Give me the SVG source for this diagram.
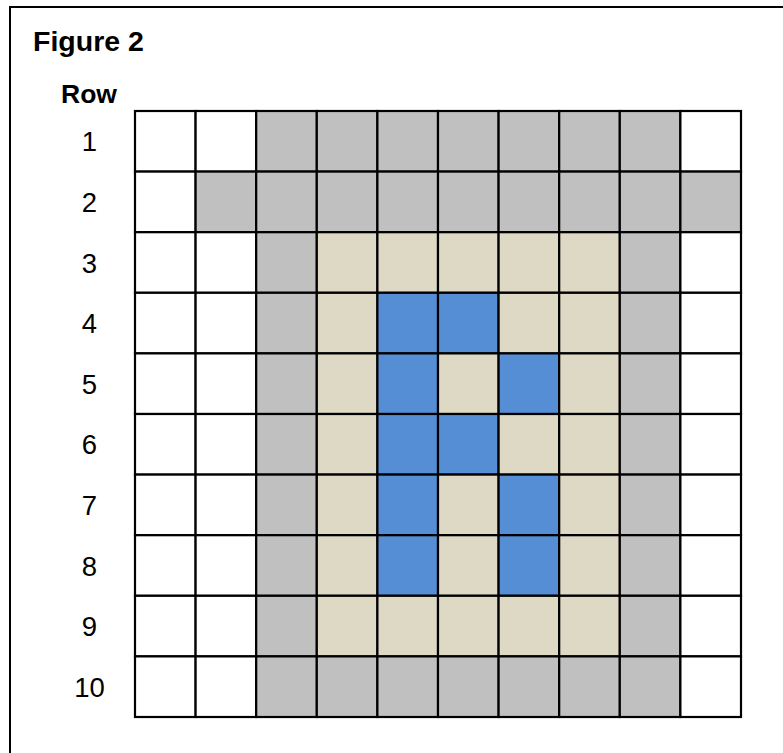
<svg xmlns="http://www.w3.org/2000/svg" width="783" height="753" viewBox="0 0 783 753">
<style>
.c{stroke:#000;stroke-width:2.2}
.w{fill:#FFFFFF}
.g{fill:#C0C0C0}
.b{fill:#DDD9C4}
.u{fill:#558ED5}
.t{font-family:"Liberation Sans",Arial,sans-serif;fill:#000}
.n{font-size:27.5px;text-anchor:middle}
.h{font-weight:bold}
</style>
<rect width="783" height="753" fill="#FFFFFF"/>
<rect x="10" y="7" width="800" height="780" fill="none" stroke="#000" stroke-width="2"/>
<text class="t h" x="33" y="51" font-size="28.5">Figure 2</text>
<text class="t h" x="61" y="102.5" font-size="26.5">Row</text>
<g id="labels" class="t n">
<text x="89.5" y="151.3">1</text>
<text x="89.5" y="211.9">2</text>
<text x="89.5" y="272.5">3</text>
<text x="89.5" y="333.1">4</text>
<text x="89.5" y="393.7">5</text>
<text x="89.5" y="454.3">6</text>
<text x="89.5" y="514.9">7</text>
<text x="89.5" y="575.5">8</text>
<text x="89.5" y="636.1">9</text>
<text x="89.5" y="696.7">10</text>
</g>
<g id="grid">
<g id="row1" transform="translate(0,111)">
<rect class="c w" x="135" y="0" width="60.6" height="60.6"/><rect class="c w" x="195.6" y="0" width="60.6" height="60.6"/><rect class="c g" x="256.2" y="0" width="60.6" height="60.6"/><rect class="c g" x="316.8" y="0" width="60.6" height="60.6"/><rect class="c g" x="377.4" y="0" width="60.6" height="60.6"/><rect class="c g" x="438" y="0" width="60.6" height="60.6"/><rect class="c g" x="498.6" y="0" width="60.6" height="60.6"/><rect class="c g" x="559.2" y="0" width="60.6" height="60.6"/><rect class="c g" x="619.8" y="0" width="60.6" height="60.6"/><rect class="c w" x="680.4" y="0" width="60.6" height="60.6"/>
</g>
<g id="row2" transform="translate(0,171.6)">
<rect class="c w" x="135" y="0" width="60.6" height="60.6"/><rect class="c g" x="195.6" y="0" width="60.6" height="60.6"/><rect class="c g" x="256.2" y="0" width="60.6" height="60.6"/><rect class="c g" x="316.8" y="0" width="60.6" height="60.6"/><rect class="c g" x="377.4" y="0" width="60.6" height="60.6"/><rect class="c g" x="438" y="0" width="60.6" height="60.6"/><rect class="c g" x="498.6" y="0" width="60.6" height="60.6"/><rect class="c g" x="559.2" y="0" width="60.6" height="60.6"/><rect class="c g" x="619.8" y="0" width="60.6" height="60.6"/><rect class="c g" x="680.4" y="0" width="60.6" height="60.6"/>
</g>
<g id="row3" transform="translate(0,232.2)">
<rect class="c w" x="135" y="0" width="60.6" height="60.6"/><rect class="c w" x="195.6" y="0" width="60.6" height="60.6"/><rect class="c g" x="256.2" y="0" width="60.6" height="60.6"/><rect class="c b" x="316.8" y="0" width="60.6" height="60.6"/><rect class="c b" x="377.4" y="0" width="60.6" height="60.6"/><rect class="c b" x="438" y="0" width="60.6" height="60.6"/><rect class="c b" x="498.6" y="0" width="60.6" height="60.6"/><rect class="c b" x="559.2" y="0" width="60.6" height="60.6"/><rect class="c g" x="619.8" y="0" width="60.6" height="60.6"/><rect class="c w" x="680.4" y="0" width="60.6" height="60.6"/>
</g>
<g id="row4" transform="translate(0,292.8)">
<rect class="c w" x="135" y="0" width="60.6" height="60.6"/><rect class="c w" x="195.6" y="0" width="60.6" height="60.6"/><rect class="c g" x="256.2" y="0" width="60.6" height="60.6"/><rect class="c b" x="316.8" y="0" width="60.6" height="60.6"/><rect class="c u" x="377.4" y="0" width="60.6" height="60.6"/><rect class="c u" x="438" y="0" width="60.6" height="60.6"/><rect class="c b" x="498.6" y="0" width="60.6" height="60.6"/><rect class="c b" x="559.2" y="0" width="60.6" height="60.6"/><rect class="c g" x="619.8" y="0" width="60.6" height="60.6"/><rect class="c w" x="680.4" y="0" width="60.6" height="60.6"/>
</g>
<g id="row5" transform="translate(0,353.4)">
<rect class="c w" x="135" y="0" width="60.6" height="60.6"/><rect class="c w" x="195.6" y="0" width="60.6" height="60.6"/><rect class="c g" x="256.2" y="0" width="60.6" height="60.6"/><rect class="c b" x="316.8" y="0" width="60.6" height="60.6"/><rect class="c u" x="377.4" y="0" width="60.6" height="60.6"/><rect class="c b" x="438" y="0" width="60.6" height="60.6"/><rect class="c u" x="498.6" y="0" width="60.6" height="60.6"/><rect class="c b" x="559.2" y="0" width="60.6" height="60.6"/><rect class="c g" x="619.8" y="0" width="60.6" height="60.6"/><rect class="c w" x="680.4" y="0" width="60.6" height="60.6"/>
</g>
<g id="row6" transform="translate(0,414)">
<rect class="c w" x="135" y="0" width="60.6" height="60.6"/><rect class="c w" x="195.6" y="0" width="60.6" height="60.6"/><rect class="c g" x="256.2" y="0" width="60.6" height="60.6"/><rect class="c b" x="316.8" y="0" width="60.6" height="60.6"/><rect class="c u" x="377.4" y="0" width="60.6" height="60.6"/><rect class="c u" x="438" y="0" width="60.6" height="60.6"/><rect class="c b" x="498.6" y="0" width="60.6" height="60.6"/><rect class="c b" x="559.2" y="0" width="60.6" height="60.6"/><rect class="c g" x="619.8" y="0" width="60.6" height="60.6"/><rect class="c w" x="680.4" y="0" width="60.6" height="60.6"/>
</g>
<g id="row7" transform="translate(0,474.6)">
<rect class="c w" x="135" y="0" width="60.6" height="60.6"/><rect class="c w" x="195.6" y="0" width="60.6" height="60.6"/><rect class="c g" x="256.2" y="0" width="60.6" height="60.6"/><rect class="c b" x="316.8" y="0" width="60.6" height="60.6"/><rect class="c u" x="377.4" y="0" width="60.6" height="60.6"/><rect class="c b" x="438" y="0" width="60.6" height="60.6"/><rect class="c u" x="498.6" y="0" width="60.6" height="60.6"/><rect class="c b" x="559.2" y="0" width="60.6" height="60.6"/><rect class="c g" x="619.8" y="0" width="60.6" height="60.6"/><rect class="c w" x="680.4" y="0" width="60.6" height="60.6"/>
</g>
<g id="row8" transform="translate(0,535.2)">
<rect class="c w" x="135" y="0" width="60.6" height="60.6"/><rect class="c w" x="195.6" y="0" width="60.6" height="60.6"/><rect class="c g" x="256.2" y="0" width="60.6" height="60.6"/><rect class="c b" x="316.8" y="0" width="60.6" height="60.6"/><rect class="c u" x="377.4" y="0" width="60.6" height="60.6"/><rect class="c b" x="438" y="0" width="60.6" height="60.6"/><rect class="c u" x="498.6" y="0" width="60.6" height="60.6"/><rect class="c b" x="559.2" y="0" width="60.6" height="60.6"/><rect class="c g" x="619.8" y="0" width="60.6" height="60.6"/><rect class="c w" x="680.4" y="0" width="60.6" height="60.6"/>
</g>
<g id="row9" transform="translate(0,595.8)">
<rect class="c w" x="135" y="0" width="60.6" height="60.6"/><rect class="c w" x="195.6" y="0" width="60.6" height="60.6"/><rect class="c g" x="256.2" y="0" width="60.6" height="60.6"/><rect class="c b" x="316.8" y="0" width="60.6" height="60.6"/><rect class="c b" x="377.4" y="0" width="60.6" height="60.6"/><rect class="c b" x="438" y="0" width="60.6" height="60.6"/><rect class="c b" x="498.6" y="0" width="60.6" height="60.6"/><rect class="c b" x="559.2" y="0" width="60.6" height="60.6"/><rect class="c g" x="619.8" y="0" width="60.6" height="60.6"/><rect class="c w" x="680.4" y="0" width="60.6" height="60.6"/>
</g>
<g id="row10" transform="translate(0,656.4)">
<rect class="c w" x="135" y="0" width="60.6" height="60.6"/><rect class="c w" x="195.6" y="0" width="60.6" height="60.6"/><rect class="c g" x="256.2" y="0" width="60.6" height="60.6"/><rect class="c g" x="316.8" y="0" width="60.6" height="60.6"/><rect class="c g" x="377.4" y="0" width="60.6" height="60.6"/><rect class="c g" x="438" y="0" width="60.6" height="60.6"/><rect class="c g" x="498.6" y="0" width="60.6" height="60.6"/><rect class="c g" x="559.2" y="0" width="60.6" height="60.6"/><rect class="c g" x="619.8" y="0" width="60.6" height="60.6"/><rect class="c w" x="680.4" y="0" width="60.6" height="60.6"/>
</g>
</g>
</svg>
